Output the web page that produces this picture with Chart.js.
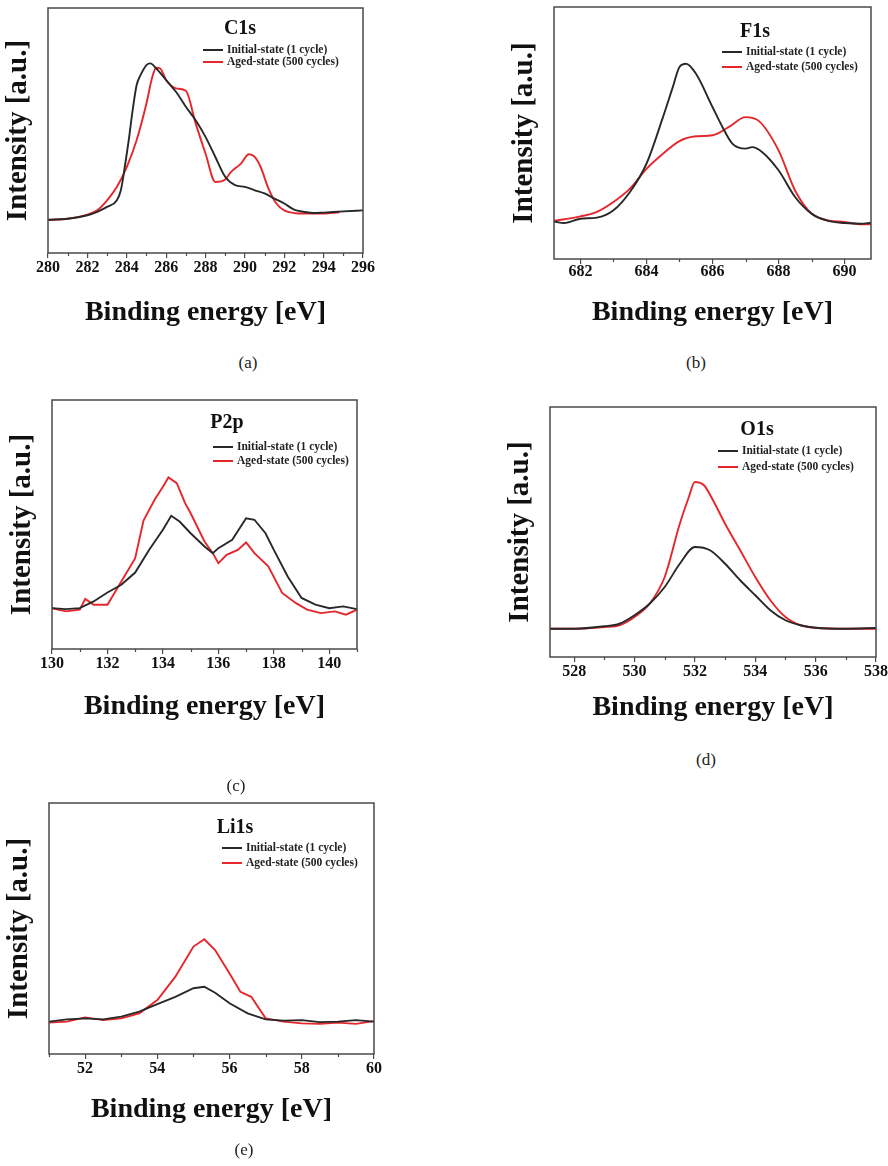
<!DOCTYPE html>
<html>
<head>
<meta charset="utf-8">
<script src="https://cdn.jsdelivr.net/npm/chart.js@4.4.1/dist/chart.umd.min.js"></script>
<style>
  html, body { margin: 0; padding: 0; background: #fff; }
  body { width: 888px; height: 1166px; position: relative; overflow: hidden; }
  canvas { position: absolute; }
  .cap { position: absolute; font-family: "Liberation Serif", "DejaVu Serif", serif; font-size: 17px; color: #222; transform: translate(-50%, -50%); white-space: nowrap; }
</style>
</head>
<body>
<canvas id="pa"></canvas>
<canvas id="pb"></canvas>
<canvas id="pc"></canvas>
<canvas id="pd"></canvas>
<canvas id="pe"></canvas>
<div class="cap" style="left:248px; top:363px;">(a)</div>
<div class="cap" style="left:696px; top:363px;">(b)</div>
<div class="cap" style="left:236px; top:786px;">(c)</div>
<div class="cap" style="left:706px; top:760px;">(d)</div>
<div class="cap" style="left:244px; top:1150px;">(e)</div>
<script>
// ---------------- DATA ----------------
const seriesNames = ["Initial-state (1 cycle)", "Aged-state (500 cycles)"];
const panelTitles = ["C1s", "F1s", "P2p", "O1s", "Li1s"];
const xTitle = "Binding energy [eV]";
const yTitle = "Intensity [a.u.]";

// (a) C1s
const c1sRange = [280, 296];
const c1sInitEV  = [280, 281, 282, 282.5, 283, 283.5, 283.7, 283.9, 284.1, 284.3, 284.5, 284.7, 285.0, 285.2, 285.5, 286, 286.5, 287, 287.5, 288, 288.5, 289, 289.5, 290, 290.5, 291, 291.5, 292, 292.5, 293, 293.5, 294, 295, 296];
const c1sInitInt = [13.6, 14.0, 15.4, 16.8, 18.8, 21.5, 25.6, 35.1, 46.0, 58.3, 68.5, 72.6, 76.7, 77.4, 75.3, 70.6, 65.8, 59.7, 54.2, 47.4, 39.2, 31.1, 27.7, 27.0, 25.6, 24.3, 22.2, 20.2, 17.7, 16.8, 16.3, 16.5, 17.0, 17.4];
const c1sAgedEV  = [280, 281, 282, 282.5, 283, 283.5, 284, 284.5, 285, 285.3, 285.5, 285.7, 286, 286.5, 287, 287.5, 288, 288.5, 289, 289.3, 289.8, 290.2, 290.5, 290.8, 291.2, 291.6, 292, 292.5, 293, 294, 294.8];
const c1sAgedInt = [13.4, 14.0, 15.7, 17.4, 21.5, 27.0, 35.1, 46.0, 61.0, 71.9, 75.6, 75.3, 70.6, 67.2, 66.2, 52.9, 40.6, 29.0, 30.0, 33.1, 36.5, 40.3, 39.2, 35.1, 26.3, 20.2, 17.4, 16.3, 16.1, 16.1, 16.6];

// (b) F1s
const f1sRange = [681.2, 690.8];
const f1sInitEV  = [681.2, 681.5, 682, 682.5, 683, 683.5, 684, 684.5, 684.8, 685, 685.2, 685.5, 686, 686.3, 686.6, 687, 687.2, 687.5, 688, 688.5, 689, 689.5, 690, 690.5, 690.8];
const f1sInitInt = [14.9, 14.3, 16.0, 16.4, 19.3, 26.6, 37.8, 56.3, 68.3, 76.2, 77.5, 73.5, 60.3, 52.4, 45.8, 43.8, 44.4, 42.5, 35.2, 24.6, 18.0, 15.1, 14.3, 14.0, 14.4];
const f1sAgedEV  = [681.2, 682, 682.5, 683, 683.5, 684, 684.5, 685, 685.5, 686, 686.5, 687, 687.4, 688, 688.5, 689, 689.5, 690, 690.5, 690.8];
const f1sAgedInt = [15.1, 16.9, 18.7, 22.6, 27.9, 35.8, 41.8, 46.8, 48.7, 49.1, 52.4, 56.3, 54.8, 43.1, 27.2, 18.0, 15.3, 14.7, 13.8, 13.8];

// (c) P2p
const p2pRange = [130, 141];
const p2pInitEV  = [130, 130.5, 131, 131.5, 132, 132.5, 133, 133.5, 134, 134.3, 134.6, 135, 135.5, 135.8, 136, 136.5, 137, 137.3, 137.7, 138, 138.5, 139, 139.5, 140, 140.5, 141];
const p2pInitInt = [16.4, 16.0, 16.4, 19.1, 22.7, 25.8, 30.7, 39.8, 47.9, 53.5, 51.2, 46.5, 41.2, 38.5, 40.5, 43.9, 52.5, 51.9, 46.5, 39.8, 29.1, 20.5, 17.8, 16.4, 17.1, 16.0];
const p2pAgedEV  = [130, 130.5, 131, 131.2, 131.5, 132, 132.5, 133, 133.3, 133.7, 134, 134.2, 134.5, 134.8, 135, 135.5, 135.8, 136, 136.3, 136.7, 137, 137.3, 137.8, 138.3, 138.8, 139.2, 139.7, 140.2, 140.6, 141];
const p2pAgedInt = [16.4, 15.1, 15.8, 20.1, 17.8, 17.8, 27.1, 36.5, 51.6, 59.9, 65.2, 68.9, 66.6, 58.6, 54.5, 43.2, 38.5, 34.5, 37.8, 39.8, 42.8, 38.5, 33.2, 22.5, 18.4, 15.8, 14.4, 15.1, 13.8, 15.8];

// (d) O1s
const o1sRange = [527.2, 538];
const o1sInitEV  = [527.2, 528, 529, 529.5, 530, 530.5, 531, 531.5, 532, 532.5, 533, 533.5, 534, 534.5, 535, 535.5, 536, 537, 538];
const o1sInitInt = [11.3, 11.3, 12.3, 13.3, 16.7, 21.3, 28.0, 37.3, 44.0, 42.7, 37.3, 30.7, 24.7, 18.7, 14.7, 12.7, 11.7, 11.3, 11.6];
const o1sAgedEV  = [527.2, 528, 529, 529.5, 530, 530.5, 531, 531.5, 531.8, 532, 532.3, 532.6, 533, 533.5, 534, 534.5, 535, 535.5, 536, 537, 538];
const o1sAgedInt = [11.3, 11.3, 12.0, 12.7, 16.0, 21.3, 32.0, 53.3, 64.0, 70.0, 68.7, 62.7, 53.3, 42.7, 32.0, 22.7, 16.0, 12.7, 11.7, 11.3, 11.3];

// (e) Li1s
const li1sRange = [51, 60];
const li1sInitEV  = [51, 51.5, 52, 52.5, 53, 53.5, 54, 54.5, 55, 55.3, 55.6, 56, 56.5, 57, 57.5, 58, 58.5, 59, 59.5, 60];
const li1sInitInt = [12.9, 13.8, 14.2, 13.8, 14.9, 16.9, 19.9, 22.8, 26.2, 26.8, 24.4, 20.2, 16.2, 13.8, 13.3, 13.5, 12.7, 12.9, 13.5, 12.9];
const li1sAgedEV  = [51, 51.5, 52, 52.5, 53, 53.5, 54, 54.5, 55, 55.3, 55.6, 56, 56.3, 56.6, 57, 57.5, 58, 58.5, 59, 59.5, 60];
const li1sAgedInt = [12.5, 12.9, 14.6, 13.5, 14.2, 16.2, 21.5, 30.8, 42.8, 45.7, 41.4, 32.1, 24.8, 22.8, 14.2, 12.9, 12.2, 12.0, 12.5, 12.0, 13.1];

// ---------------- LAYOUT / STYLE ----------------
const SERIF = '"Liberation Serif", "Times New Roman", serif';
const BLACK = '#282828';
const RED = '#e5262b';
const AXIS = '#4a4a4a';

function pairs(xs, ys) { return xs.map((x, i) => ({ x: x, y: ys[i] })); }

const decoPlugin = {
  id: 'deco',
  afterDraw(chart, args, o) {
    const ctx = chart.ctx;
    const a = chart.chartArea;
    const xs = chart.scales.x;
    ctx.save();
    ctx.strokeStyle = AXIS;
    ctx.lineWidth = 1.2;
    for (let v = Math.ceil(xs.min); v <= Math.floor(xs.max); v++) {
      if (v % 2 !== 0) {
        const px = Math.round(xs.getPixelForValue(v)) + 0.5;
        ctx.beginPath(); ctx.moveTo(px, a.bottom); ctx.lineTo(px, a.bottom + 3); ctx.stroke();
      }
    }
    ctx.lineWidth = 1.5;
    ctx.strokeStyle = AXIS;
    ctx.strokeRect(a.left, a.top, a.right - a.left, a.bottom - a.top);
    ctx.fillStyle = '#111';
    ctx.textAlign = 'center';
    ctx.textBaseline = 'middle';
    ctx.font = 'bold 20px ' + SERIF;
    ctx.fillText(o.title, a.right - o.titleDx, a.top + o.titleDy);
    ctx.font = 'bold 11.5px ' + SERIF;
    ctx.textAlign = 'left';
    const cols = [BLACK, RED];
    for (let i = 0; i < 2; i++) {
      const y = a.top + o.legDy[i];
      ctx.strokeStyle = cols[i];
      ctx.lineWidth = 2;
      ctx.beginPath();
      ctx.moveTo(a.right - o.lineDx, y);
      ctx.lineTo(a.right - o.lineDx + 20, y);
      ctx.stroke();
      ctx.fillStyle = '#222';
      ctx.fillText(seriesNames[i], a.right - o.lineDx + 24, y);
    }
    ctx.restore();
  }
};

function makePanel(id, box, range, init, aged, deco, xAxisH, tickPad, smooth) {
  const [L, T, R, B] = box;
  const yW = 50, padT = 10, padR = 18;
  const cv = document.getElementById(id);
  const w = (R - L) + yW + padR;
  const h = (B - T) + padT + xAxisH;
  cv.width = w; cv.height = h;
  cv.style.left = (L - yW) + 'px';
  cv.style.top = (T - padT) + 'px';
  cv.style.width = w + 'px';
  cv.style.height = h + 'px';
  const ds = (lbl, d, c) => ({ label: lbl, data: d, borderColor: c, borderWidth: 1.9, pointRadius: 0, fill: false,
    tension: smooth ? 0.4 : 0, cubicInterpolationMode: smooth ? 'monotone' : 'default' });
  return new Chart(cv, {
    type: 'line',
    data: {
      datasets: [
        ds(seriesNames[0], pairs(init[0], init[1]), BLACK),
        ds(seriesNames[1], pairs(aged[0], aged[1]), RED)
      ]
    },
    options: {
      responsive: false,
      animation: false,
      devicePixelRatio: 1,
      layout: { padding: { left: 0, top: padT, right: padR, bottom: 0 } },
      plugins: { legend: { display: false }, tooltip: { enabled: false }, title: { display: false }, deco: deco },
      scales: {
        x: {
          type: 'linear', min: range[0], max: range[1],
          afterFit(s) { s.height = xAxisH; },
          border: { display: false },
          grid: { display: true, drawOnChartArea: false, drawTicks: true, tickLength: 5, color: AXIS, lineWidth: 1.2 },
          ticks: { stepSize: 2, includeBounds: false, padding: tickPad, color: '#111', font: { family: SERIF, size: 16, weight: 'bold' }, maxRotation: 0, autoSkip: false },
          title: { display: true, text: xTitle, color: '#111', font: { family: SERIF, size: 28, weight: 'bold' }, padding: 0 }
        },
        y: {
          type: 'linear', min: 0, max: 100,
          afterFit(s) { s.width = yW; },
          border: { display: false },
          grid: { display: false },
          ticks: { display: false },
          title: { display: true, text: yTitle, color: '#111', font: { family: SERIF, size: 29, weight: 'bold' }, padding: { top: 3, bottom: 0 } }
        }
      }
    },
    plugins: [decoPlugin]
  });
}

makePanel('pa', [48, 8, 363, 253], c1sRange, [c1sInitEV, c1sInitInt], [c1sAgedEV, c1sAgedInt],
  { title: panelTitles[0], titleDx: 123, titleDy: 21, lineDx: 160, legDy: [42, 54] }, 77, 0, true);
makePanel('pb', [554, 7, 871, 259], f1sRange, [f1sInitEV, f1sInitInt], [f1sAgedEV, f1sAgedInt],
  { title: panelTitles[1], titleDx: 116, titleDy: 25, lineDx: 149, legDy: [45, 60] }, 71, -2, true);
makePanel('pc', [52, 400, 357, 649], p2pRange, [p2pInitEV, p2pInitInt], [p2pAgedEV, p2pAgedInt],
  { title: panelTitles[2], titleDx: 130, titleDy: 23, lineDx: 144, legDy: [47, 61] }, 75, 0, false);
makePanel('pd', [550, 407, 876, 657], o1sRange, [o1sInitEV, o1sInitInt], [o1sAgedEV, o1sAgedInt],
  { title: panelTitles[3], titleDx: 119, titleDy: 23, lineDx: 158, legDy: [44, 60] }, 68, 0, true);
makePanel('pe', [49, 803, 374, 1054], li1sRange, [li1sInitEV, li1sInitInt], [li1sAgedEV, li1sAgedInt],
  { title: panelTitles[4], titleDx: 139, titleDy: 25, lineDx: 152, legDy: [45, 60] }, 73, 0, false);
</script>
</body>
</html>
